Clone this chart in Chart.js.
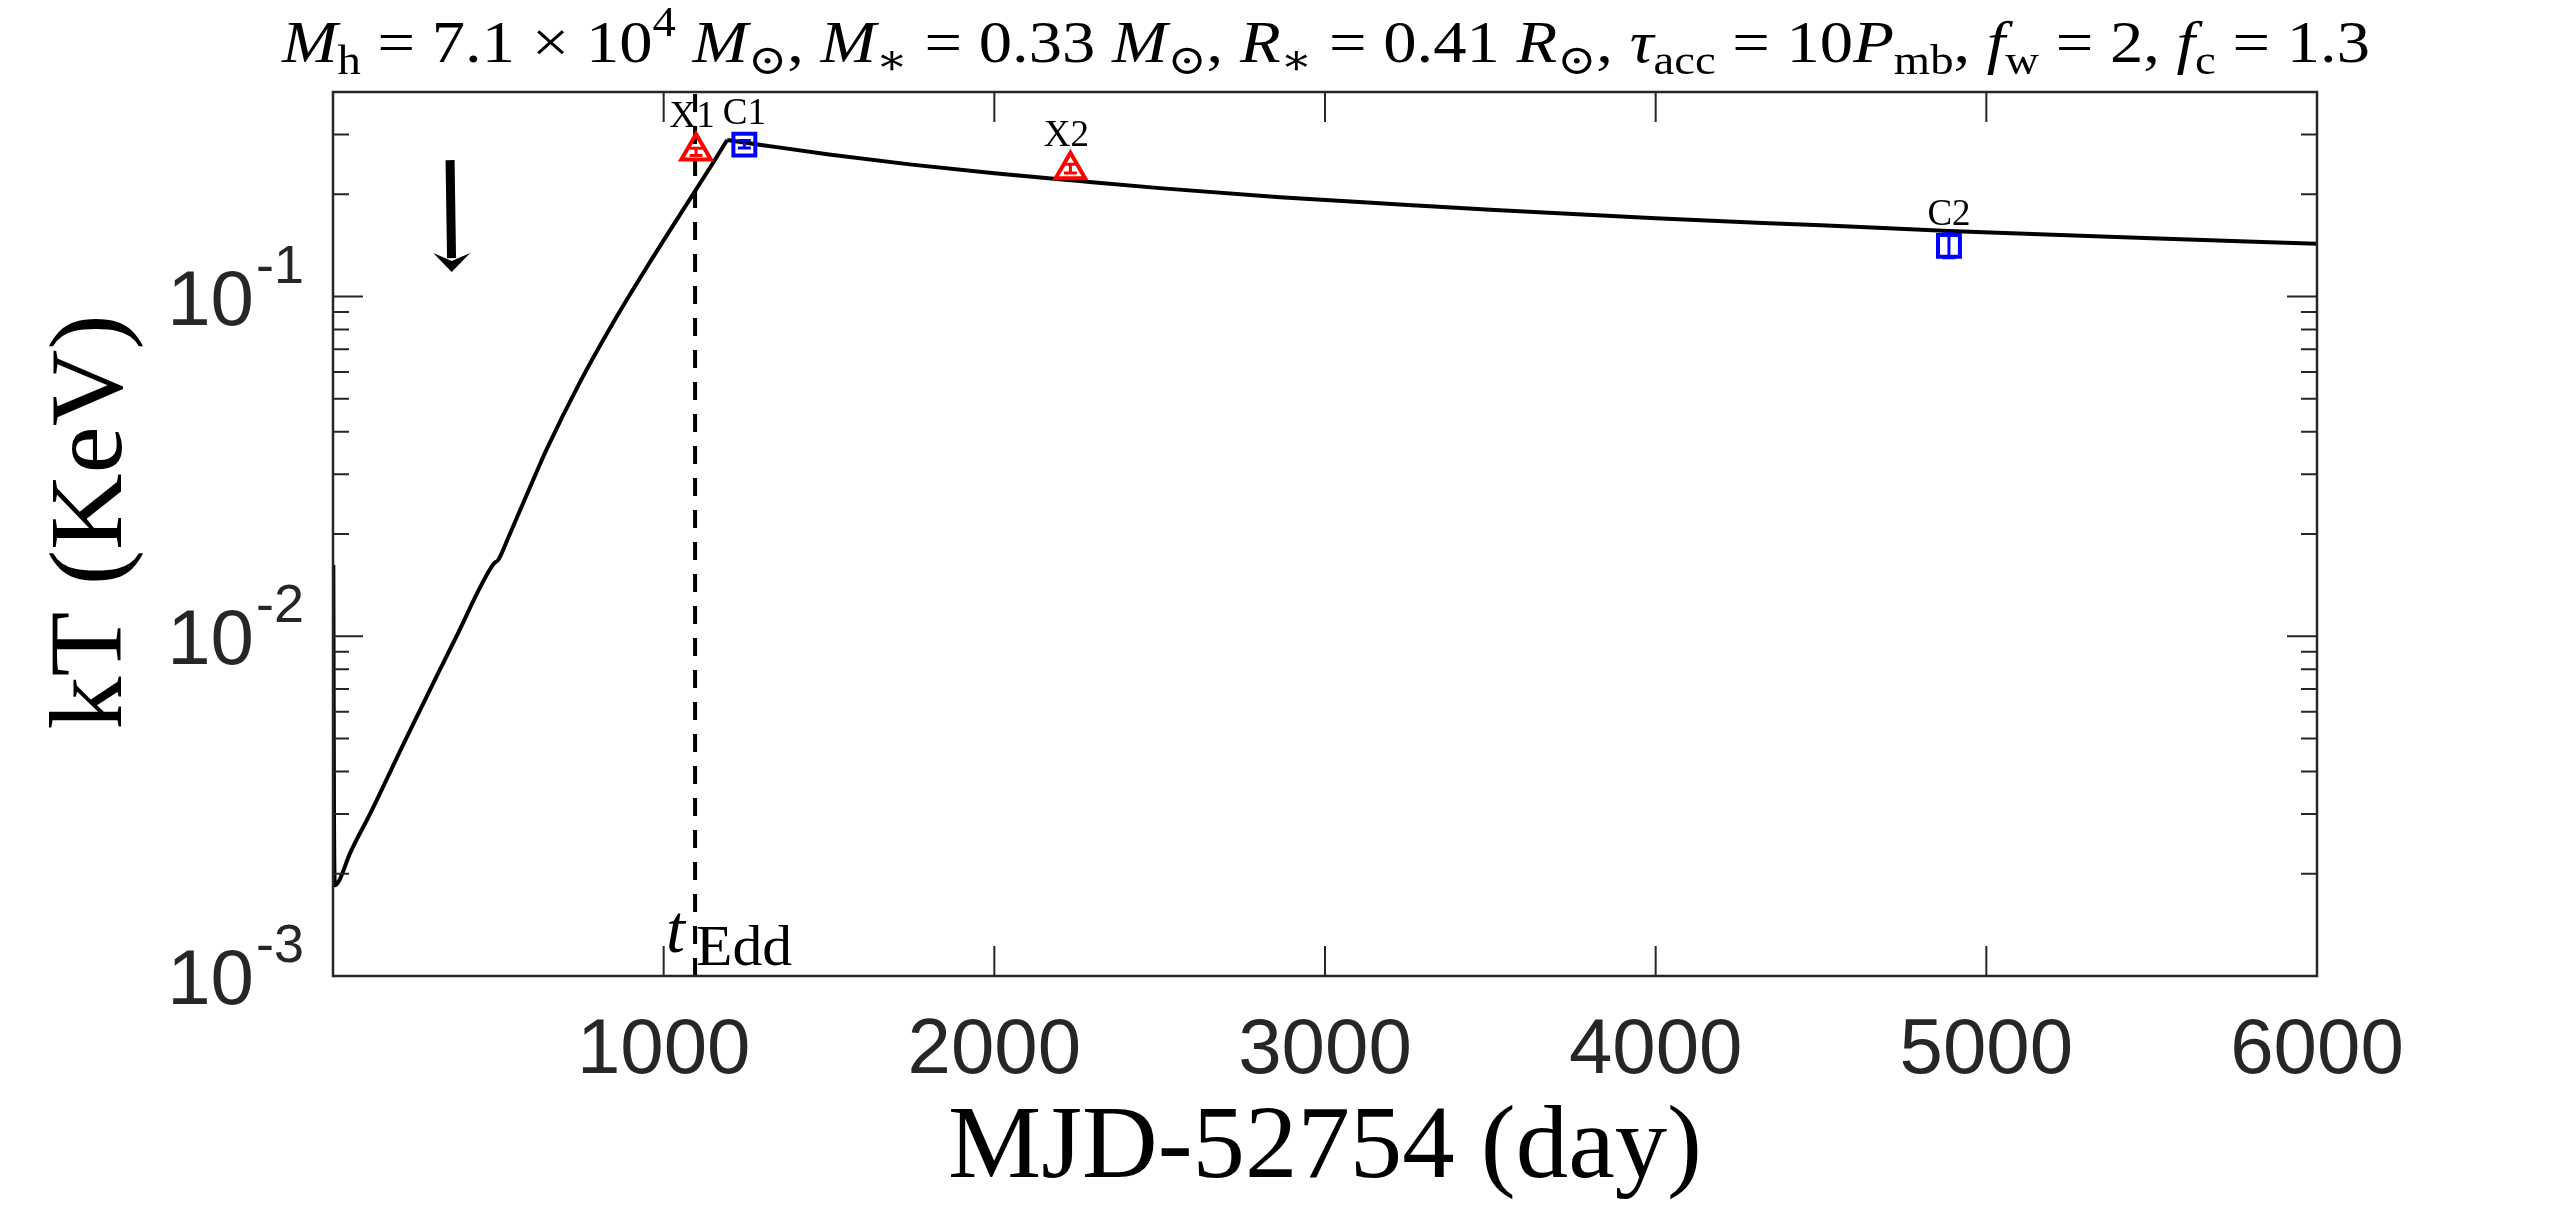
<!DOCTYPE html>
<html>
<head>
<meta charset="utf-8">
<script src="https://cdn.jsdelivr.net/npm/chart.js@4.4.1/dist/chart.umd.min.js"></script>
<style>
  html, body { margin: 0; padding: 0; background: #fff; overflow: hidden; }
  canvas { display: block; }
</style>
</head>
<body>
<canvas id="kTChart" width="2560" height="1212"></canvas>
<script>
// model curve
const modelDays = [1, 3, 6, 20, 50, 112, 221, 324, 369, 485, 500, 530, 616, 646, 747, 848, 949, 1049, 1150, 1192,
  1300, 1500, 1750, 2000, 2250, 2500, 2864, 3250, 3500, 4000, 4500, 4887, 5500, 6000];
const modelKT = [0.0162, 0.0030, 0.00185, 0.00192, 0.00228, 0.0030, 0.0050, 0.0080, 0.0098, 0.0163, 0.0168, 0.0195, 0.0305, 0.0355, 0.0560, 0.084, 0.122, 0.174, 0.248, 0.289,
  0.279, 0.262, 0.2445, 0.2305, 0.219, 0.2085, 0.196, 0.186, 0.180, 0.170, 0.162, 0.156, 0.1485, 0.143];

// XMM points (red triangles)
const xmmNames = ['X1', 'X2'];
const xmmDays = [1098, 2230];
const xmmKT = [0.268, 0.236];
const xmmLo = [0.260, 0.231];
const xmmHi = [0.273, 0.245];

// Chandra points (blue squares)
const chandraNames = ['C1', 'C2'];
const chandraDays = [1244, 4887];
const chandraKT = [0.280, 0.141];
const chandraLo = [0.2735, 0.130];
const chandraHi = [0.2877, 0.153];

const tEdd = 1095;
const arrowDays = [354, 359];   // top, tip
const arrowKT = [0.252, 0.118];

const xTicks = [1000, 2000, 3000, 4000, 5000, 6000];
const xTickLabels = ['1000', '2000', '3000', '4000', '5000', '6000'];
const yDecades = [0.001, 0.01, 0.1];
const yDecadeExp = ['-3', '-2', '-1'];
const xMin = 0, xMax = 6000, yMin = 0.001, yMax = 0.4;

const axisColor = '#262626';
const serif = '"Liberation Serif", "DejaVu Serif", serif';
const sans = '"Liberation Sans", Arial, sans-serif';

const titleParts = [
  ['M', 'i'], ['h', 's'], [' = 7.1 × 10', 'r'], ['4', 'p'], [' ', 'r'], ['M', 'i'], ['⊙', 's'], [', ', 'r'],
  ['M', 'i'], ['∗', 's'], [' = 0.33 ', 'r'], ['M', 'i'], ['⊙', 's'], [', ', 'r'],
  ['R', 'i'], ['∗', 's'], [' = 0.41 ', 'r'], ['R', 'i'], ['⊙', 's'], [', ', 'r'],
  ['τ', 'i'], ['acc', 's'], [' = 10', 'r'], ['P', 'i'], ['mb', 's'], [', ', 'r'],
  ['f', 'i'], ['w', 's'], [' = 2, ', 'r'], ['f', 'i'], ['c', 's'], [' = 1.3', 'r']
];

function pts(xs, ys) {
  return xs.map((v, i) => ({ x: v, y: ys[i] }));
}

// split the model at its peak so the top stays sharp
const peak = modelKT.indexOf(Math.max(...modelKT));
const risePts = pts(modelDays.slice(0, peak + 1), modelKT.slice(0, peak + 1));
const fallPts = pts(modelDays.slice(peak), modelKT.slice(peak));

function partFont(kind) {
  if (kind === 'i') return 'italic 60px ' + serif;
  if (kind === 's' || kind === 'p') return '42px ' + serif;
  return '60px ' + serif;
}

function drawRich(ctx, parts, left, baseline, width) {
  let total = 0;
  parts.forEach(p => { ctx.font = partFont(p[1]); total += ctx.measureText(p[0]).width; });
  const k = width / total;
  ctx.save();
  ctx.translate(left, baseline);
  ctx.scale(k, 1);
  ctx.textAlign = 'left';
  ctx.textBaseline = 'alphabetic';
  let cx = 0;
  parts.forEach(p => {
    ctx.font = partFont(p[1]);
    let dy = 0;
    if (p[1] === 's') dy = 12;
    if (p[1] === 'p') dy = -26;
    ctx.fillText(p[0], cx, dy);
    cx += ctx.measureText(p[0]).width;
  });
  ctx.restore();
}

function fitText(ctx, text, cx, baseline, font, width) {
  ctx.save();
  ctx.font = font;
  const k = width / ctx.measureText(text).width;
  ctx.translate(cx, baseline);
  ctx.scale(k, 1);
  ctx.textAlign = 'center';
  ctx.textBaseline = 'alphabetic';
  ctx.fillText(text, 0, 0);
  ctx.restore();
}

function errorBars(ctx, x, y, days, lo, hi, color) {
  ctx.strokeStyle = color;
  ctx.lineWidth = 3;
  days.forEach((d, i) => {
    const px = x.getPixelForValue(d);
    const p1 = y.getPixelForValue(lo[i]);
    const p2 = y.getPixelForValue(hi[i]);
    ctx.beginPath();
    ctx.moveTo(px, p1); ctx.lineTo(px, p2);
    ctx.moveTo(px - 6.5, p1); ctx.lineTo(px + 6.5, p1);
    ctx.moveTo(px - 6.5, p2); ctx.lineTo(px + 6.5, p2);
    ctx.stroke();
  });
}

const overlay = {
  id: 'overlay',
  afterDatasetsDraw(chart) {
    const ctx = chart.ctx;
    const a = chart.chartArea;
    const x = chart.scales.x;
    const y = chart.scales.y;

    errorBars(ctx, x, y, xmmDays, xmmLo, xmmHi, '#ff0000');
    errorBars(ctx, x, y, chandraDays, chandraLo, chandraHi, '#0000ff');

    // point labels
    ctx.fillStyle = '#000';
    ctx.font = '37px ' + serif;
    ctx.textAlign = 'center';
    ctx.textBaseline = 'alphabetic';
    xmmNames.forEach((n, i) => ctx.fillText(n, x.getPixelForValue(xmmDays[i]) - 4, y.getPixelForValue(xmmKT[i]) - 24));
    chandraNames.forEach((n, i) => ctx.fillText(n, x.getPixelForValue(chandraDays[i]), y.getPixelForValue(chandraKT[i]) - 21));

    // t_Edd label
    ctx.textAlign = 'left';
    ctx.font = 'italic 68px ' + serif;
    ctx.fillText('t', x.getPixelForValue(tEdd) - 29, 952);
    ctx.save();
    ctx.font = '56px ' + serif;
    const ew = ctx.measureText('Edd').width;
    ctx.translate(x.getPixelForValue(tEdd) + 1, 965);
    ctx.scale(96 / ew, 1);
    ctx.fillText('Edd', 0, 0);
    ctx.restore();

    // arrow
    const ax1 = x.getPixelForValue(arrowDays[0]), ay1 = y.getPixelForValue(arrowKT[0]);
    const ax2 = x.getPixelForValue(arrowDays[1]), ay2 = y.getPixelForValue(arrowKT[1]);
    ctx.strokeStyle = '#000';
    ctx.lineWidth = 9;
    ctx.lineCap = 'butt';
    ctx.beginPath();
    ctx.moveTo(ax1, ay1);
    ctx.lineTo(ax1 + (ax2 - ax1) * 0.9, ay2 - 14);
    ctx.stroke();
    ctx.fillStyle = '#000';
    ctx.beginPath();
    ctx.moveTo(ax2, ay2);
    ctx.lineTo(ax2 - 18.5, ay2 - 19);
    ctx.lineTo(ax2, ay2 - 11);
    ctx.lineTo(ax2 + 18.5, ay2 - 19);
    ctx.closePath();
    ctx.fill();

    // axes box and inward ticks
    ctx.strokeStyle = axisColor;
    ctx.lineWidth = 2;
    ctx.beginPath();
    xTicks.forEach(v => {
      const px = x.getPixelForValue(v);
      ctx.moveTo(px, a.bottom); ctx.lineTo(px, a.bottom - 30);
      ctx.moveTo(px, a.top); ctx.lineTo(px, a.top + 30);
    });
    yDecades.forEach(dec => {
      const py = y.getPixelForValue(dec);
      ctx.moveTo(a.left, py); ctx.lineTo(a.left + 30, py);
      ctx.moveTo(a.right, py); ctx.lineTo(a.right - 30, py);
      for (let m = 2; m <= 9; m++) {
        const v = m * dec;
        if (v > yMax) break;
        const pm = y.getPixelForValue(v);
        ctx.moveTo(a.left, pm); ctx.lineTo(a.left + 16, pm);
        ctx.moveTo(a.right, pm); ctx.lineTo(a.right - 16, pm);
      }
    });
    ctx.stroke();
    ctx.lineWidth = 2.5;
    ctx.strokeRect(a.left, a.top, a.right - a.left, a.bottom - a.top);

    // tick labels
    ctx.fillStyle = axisColor;
    ctx.textBaseline = 'alphabetic';
    ctx.font = '78px ' + sans;
    ctx.textAlign = 'center';
    xTicks.forEach((v, i) => ctx.fillText(xTickLabels[i], x.getPixelForValue(v), 1073));
    ctx.textAlign = 'right';
    yDecades.forEach((dec, i) => {
      const py = y.getPixelForValue(dec);
      ctx.font = '54px ' + sans;
      const sw = ctx.measureText(yDecadeExp[i]).width;
      ctx.fillText(yDecadeExp[i], 304, py - 14);
      ctx.font = '78px ' + sans;
      ctx.fillText('10', 304 - sw - 2, py + 28);
    });

    // titles
    ctx.fillStyle = '#000';
    drawRich(ctx, titleParts, 282, 62, 2088);
    fitText(ctx, 'MJD-52754 (day)', (a.left + a.right) / 2, 1177, '104px ' + serif, 754);
    ctx.save();
    ctx.translate(121, 522);
    ctx.rotate(-Math.PI / 2);
    fitText(ctx, 'kT (KeV)', 0, 0, '103px ' + serif, 415);
    ctx.restore();
  }
};

const modelStyle = {
  showLine: true,
  borderColor: '#000',
  borderWidth: 4,
  pointRadius: 0,
  cubicInterpolationMode: 'monotone',
  order: 1
};

const data = {
  datasets: [
    {
      label: 'XMM',
      data: pts(xmmDays, xmmKT),
      showLine: false,
      pointStyle: 'triangle',
      pointRadius: 17,
      pointBorderWidth: 4,
      pointBorderColor: '#ff0000',
      pointBackgroundColor: 'rgba(0,0,0,0)',
      order: 0
    },
    {
      label: 'Chandra',
      data: pts(chandraDays, chandraKT),
      showLine: false,
      pointStyle: 'rect',
      pointRadius: 15.5,
      pointBorderWidth: 4,
      pointBorderColor: '#0000ff',
      pointBackgroundColor: 'rgba(0,0,0,0)',
      order: 0
    },
    Object.assign({ label: 'model rise', data: risePts }, modelStyle),
    Object.assign({ label: 'model fall', data: fallPts }, modelStyle),
    {
      label: 'tEdd',
      data: [{ x: tEdd, y: yMin }, { x: tEdd, y: yMax }],
      showLine: true,
      borderColor: '#000',
      borderWidth: 4,
      borderDash: [18, 14],
      pointRadius: 0,
      order: 2
    }
  ]
};

const config = {
  type: 'scatter',
  data: data,
  options: {
    responsive: false,
    devicePixelRatio: 1,
    animation: false,
    layout: { padding: { left: 333, right: 243, top: 92, bottom: 236 } },
    plugins: { legend: { display: false }, tooltip: { enabled: false } },
    scales: {
      x: { type: 'linear', min: xMin, max: xMax, display: false },
      y: { type: 'logarithmic', min: yMin, max: yMax, display: false }
    }
  },
  plugins: [overlay]
};

const myChart = new Chart(document.getElementById('kTChart'), config);
</script>
</body>
</html>
